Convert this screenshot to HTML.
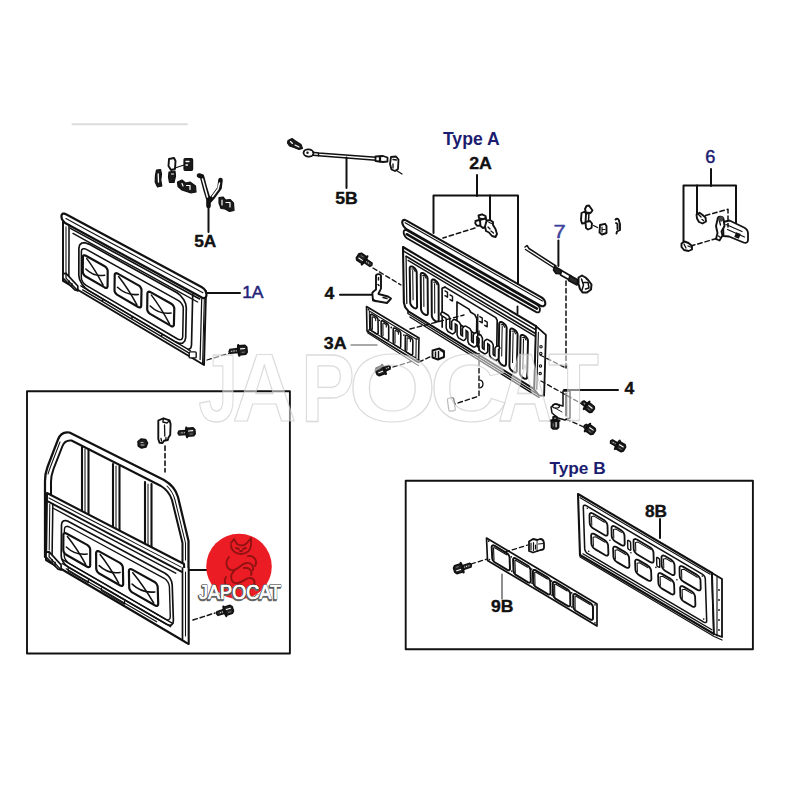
<!DOCTYPE html>
<html><head><meta charset="utf-8"><style>
html,body{margin:0;padding:0;background:#fff;}
svg{display:block;font-family:"Liberation Sans",sans-serif;}
</style></head><body>
<svg width="800" height="800" viewBox="0 0 800 800" stroke-linecap="round" stroke-linejoin="round">
<rect width="800" height="800" fill="#fff"/>
<rect x="27" y="391.25" width="262.9" height="262.3" fill="none" stroke="#111" stroke-width="1.9"/>
<rect x="405.7" y="480.8" width="347.2" height="168.4" fill="none" stroke="#111" stroke-width="1.9"/>
<line x1="72.5" y1="124.3" x2="187" y2="124.3" stroke="#dcdcdc" stroke-width="2"/>
<path d="M63.0,214.0 L206.0,291.0 L204.0,365.0 L63.0,281.0 Z" fill="#fff" stroke="#111" stroke-width="1.9599999999999997" />
<path d="M202.0,287.3 L203.8,288.6 L205.2,290.4 L206.1,292.4 L206.4,294.4 L206.4,295.4 L206.0,297.0 L205.0,297.9 L203.5,298.1 L201.8,297.6 L66.0,223.5 L64.3,222.3 L62.8,220.6 L61.8,218.7 L61.5,216.9 L61.5,216.0 L61.8,214.6 L62.8,213.7 L64.3,213.6 L66.0,214.2 Z" fill="#fff" stroke="#111" stroke-width="2.2399999999999998" />
<path d="M66.0,218.6 L88.8,230.9 L111.6,243.3 L134.5,255.6 L157.3,268.0 L180.1,280.3 L202.9,292.7" fill="none" stroke="#111" stroke-width="1.1199999999999999" />
<path d="M70.0,228.1 L91.6,239.9 L113.2,251.7 L134.8,263.5 L156.5,275.4 L178.1,287.2 L199.7,299.0" fill="none" stroke="#111" stroke-width="1.54" />
<path d="M73.0,233.4 L93.7,244.9 L114.5,256.3 L135.3,267.7 L156.1,279.2 L176.8,290.6 L197.6,302.0" fill="none" stroke="#111" stroke-width="1.4" />
<path d="M69.0,224.7 L69.0,238.7 L69.0,252.7 L68.9,266.8 L68.9,280.8" fill="none" stroke="#111" stroke-width="1.54" />
<path d="M66.0,226.8 L66.0,238.5 L66.0,250.1 L66.0,261.8 L66.0,273.4" fill="none" stroke="#111" stroke-width="1.05" />
<path d="M192.7,294.2 L191.5,345.1 L190.9,347.9 L188.4,349.5" fill="none" stroke="#111" stroke-width="1.68" />
<path d="M201.7,299.1 L201.3,314.2 L200.9,329.3 L200.5,344.5 L200.1,359.6" fill="none" stroke="#111" stroke-width="1.26" />
<path d="M204.3,299.4 L203.8,315.6 L203.4,331.8 L203.0,347.9 L202.5,364.1" fill="none" stroke="#111" stroke-width="1.05" />
<path d="M176.6,292.5 L180.4,295.4 L183.6,299.4 L185.7,303.9 L186.3,308.2 L185.7,337.6 L184.8,341.0 L182.6,343.1 L179.3,343.4 L175.5,341.9 L88.7,290.6 L84.9,287.6 L81.7,283.7 L79.6,279.4 L78.8,275.3 L78.9,248.0 L79.7,244.9 L81.9,243.0 L85.1,242.7 L88.9,244.1 Z" fill="none" stroke="#111" stroke-width="1.68" />
<path d="M178.5,300.7 L180.4,302.1 L181.9,304.1 L183.0,306.4 L183.3,308.5 L182.7,336.9 L182.2,338.6 L181.1,339.6 L179.5,339.8 L177.6,339.0 L86.2,285.3 L84.3,283.9 L82.7,281.9 L81.7,279.7 L81.3,277.7 L81.4,251.3 L81.8,249.7 L82.9,248.8 L84.5,248.7 L86.4,249.4 Z" fill="none" stroke="#111" stroke-width="1.54" />
<path d="M104.7,266.3 L105.9,267.2 L106.8,268.4 L107.5,269.7 L107.7,270.9 L107.6,286.3 L107.3,287.3 L106.7,287.8 L105.7,287.9 L104.6,287.4 L85.8,276.5 L84.6,275.7 L83.7,274.5 L83.0,273.2 L82.8,272.0 L82.9,256.9 L83.1,255.9 L83.7,255.4 L84.7,255.3 L85.9,255.7 Z" fill="#fff" stroke="#111" stroke-width="2.17" />
<path d="M86.8,258.6 Q95.2,269.8 103.1,285.1" fill="none" stroke="#111" stroke-width="1.54" />
<path d="M85.8,269.0 Q94.0,277.1 104.7,275.2" fill="none" stroke="#111" stroke-width="1.54" />
<path d="M138.5,285.4 L139.7,286.2 L140.6,287.4 L141.3,288.7 L141.5,290.0 L141.2,305.8 L141.0,306.8 L140.3,307.3 L139.4,307.4 L138.2,307.0 L117.4,294.9 L116.3,294.0 L115.3,292.8 L114.7,291.5 L114.5,290.3 L114.7,274.8 L114.9,273.9 L115.6,273.3 L116.5,273.2 L117.7,273.6 Z" fill="#fff" stroke="#111" stroke-width="2.17" />
<path d="M118.6,276.6 Q128.0,288.5 136.8,304.6" fill="none" stroke="#111" stroke-width="1.54" />
<path d="M117.5,287.3 Q126.5,295.9 138.4,294.4" fill="none" stroke="#111" stroke-width="1.54" />
<path d="M171.3,303.8 L172.5,304.7 L173.4,305.9 L174.1,307.3 L174.3,308.5 L173.9,324.6 L173.7,325.7 L173.0,326.3 L172.0,326.4 L170.9,325.9 L150.1,313.9 L149.0,313.0 L148.0,311.8 L147.4,310.5 L147.2,309.2 L147.4,293.4 L147.7,292.4 L148.3,291.8 L149.3,291.7 L150.5,292.1 Z" fill="#fff" stroke="#111" stroke-width="2.17" />
<path d="M151.4,295.1 Q160.7,307.2 169.4,323.6" fill="none" stroke="#111" stroke-width="1.54" />
<path d="M150.2,306.0 Q159.2,314.7 171.1,313.1" fill="none" stroke="#111" stroke-width="1.54" />
<path d="M80.8,285.9 L99.0,296.7 L117.3,307.5 L135.6,318.3 L153.8,329.1 L172.1,339.9 L190.3,350.7" fill="none" stroke="#111" stroke-width="1.4" />
<path d="M82.7,289.9 L101.0,300.7 L119.2,311.6 L137.5,322.4 L155.7,333.2 L174.0,344.1 L192.2,354.9" fill="none" stroke="#111" stroke-width="1.4" />
<circle cx="102.5" cy="300.2" r="1.0" fill="#111"/>
<circle cx="132.1" cy="317.7" r="1.0" fill="#111"/>
<circle cx="161.7" cy="335.2" r="1.0" fill="#111"/>
<path d="M63.0,273.6 L66.0,273.4 L77.8,286.0 L77.8,290.8 L74.8,289.9 L63.0,278.2 Z" fill="#fff" stroke="#111" stroke-width="1.68" />
<path d="M66.0,273.4 L66.0,278.1 L77.8,290.8" fill="none" stroke="#111" stroke-width="1.26" />
<path d="M68.9,280.8 L68.9,283.6" fill="none" stroke="#111" stroke-width="1.4" />
<path d="M71.9,283.5 L71.9,286.3" fill="none" stroke="#111" stroke-width="1.4" />
<rect x="189.2" y="351.9" width="7" height="6" rx="1" fill="#fff" stroke="#111" stroke-width="1.4"/>
<path d="M402.0,218.0 L546.0,300.0 L543.0,317.0 L403.0,237.0 Z" fill="#fff" stroke="none" stroke-width="1.05" />
<path d="M541.5,297.4 L543.2,298.7 L544.5,300.4 L545.2,302.3 L545.3,304.0 L545.3,304.0 L544.7,305.4 L543.5,306.1 L541.9,306.2 L540.1,305.5 L406.9,229.5 L405.2,228.2 L403.7,226.4 L402.7,224.4 L402.2,222.5 L402.2,222.5 L402.5,221.0 L403.4,220.1 L404.8,219.9 L406.5,220.6 Z" fill="#fff" stroke="#111" stroke-width="2.0999999999999996" />
<path d="M405.1,222.7 L428.0,235.7 L450.9,248.8 L473.8,261.8 L496.7,274.9 L519.6,287.9 L542.5,301.0" fill="none" stroke="#111" stroke-width="1.1199999999999999" />
<path d="M537.0,304.7 L538.3,305.7 L539.3,307.0 L539.9,308.5 L539.9,309.8 L539.8,310.7 L539.3,311.8 L538.4,312.4 L537.2,312.4 L535.9,311.9 L407.3,238.5 L406.0,237.5 L404.9,236.1 L404.1,234.5 L403.7,233.1 L403.7,232.1 L403.9,230.9 L404.6,230.2 L405.7,230.0 L407.0,230.5 Z" fill="#fff" stroke="#111" stroke-width="1.8199999999999998" />
<path d="M406.7,234.2 L428.4,246.6 L450.1,259.0 L471.8,271.4 L493.5,283.8 L515.2,296.2 L536.9,308.6" fill="none" stroke="#111" stroke-width="2.52" />
<path d="M403.0,247.0 L536.0,326.1 L545.9,334.9 L543.9,400.4 L404.0,313.9 Z" fill="#fff" stroke="none" stroke-width="1.05" />
<path d="M403.0,247.5 L403.9,302.6 L405.1,307.1 L408.8,311.7 L534.3,389.1" fill="none" stroke="#111" stroke-width="2.0999999999999996" />
<path d="M403.0,247.0 L536.0,326.1" fill="none" stroke="#111" stroke-width="2.0999999999999996" />
<path d="M404.1,251.4 L426.0,264.5 L448.0,277.5 L470.0,290.6 L491.9,303.7 L513.9,316.8 L535.9,329.9" fill="none" stroke="#111" stroke-width="1.54" />
<path d="M406.1,256.3 L427.7,269.2 L449.3,282.1 L471.0,295.0 L492.6,307.9 L514.2,320.8 L535.8,333.8" fill="none" stroke="#111" stroke-width="1.68" />
<path d="M408.1,260.3 L429.4,273.1 L450.7,285.8 L471.9,298.5 L493.2,311.2 L514.5,323.9 L535.7,336.6" fill="none" stroke="#111" stroke-width="1.4" />
<path d="M536.0,326.1 L535.6,341.9 L535.1,357.8 L534.7,373.7 L534.3,389.6" fill="none" stroke="#111" stroke-width="1.68" />
<path d="M406.1,256.3 L406.3,272.0 L406.6,287.7 L406.8,303.4" fill="none" stroke="#111" stroke-width="1.26" />
<path d="M407.9,311.6 L407.9,313.5 L537.2,393.8" fill="none" stroke="#111" stroke-width="1.4" />
<path d="M409.9,317.0 L539.0,397.4" fill="none" stroke="#111" stroke-width="1.4" />
<path d="M413.5,267.3 L414.7,268.2 L415.7,269.5 L416.4,270.9 L416.7,272.2 L417.1,306.8 L416.8,307.8 L416.2,308.3 L415.2,308.4 L414.0,307.9 L413.4,307.5 L412.2,306.5 L411.1,305.2 L410.4,303.8 L410.2,302.5 L409.7,268.0 L410.0,267.0 L410.6,266.5 L411.7,266.4 L412.9,266.9 Z" fill="none" stroke="#111" stroke-width="1.9599999999999997" />
<path d="M412.7,270.6 L412.9,285.2 L413.1,299.8" fill="none" stroke="#111" stroke-width="1.05" />
<path d="M411.7,269.0 L413.7,268.8 L415.2,271.6" fill="none" stroke="#111" stroke-width="1.1199999999999999" />
<path d="M424.4,273.8 L425.6,274.8 L426.7,276.1 L427.4,277.5 L427.6,278.8 L427.9,313.4 L427.7,314.4 L427.0,315.0 L426.0,315.0 L424.8,314.5 L424.2,314.1 L423.0,313.2 L421.9,311.9 L421.3,310.5 L421.0,309.2 L420.7,274.6 L420.9,273.6 L421.6,273.0 L422.6,273.0 L423.8,273.5 Z" fill="none" stroke="#111" stroke-width="1.9599999999999997" />
<path d="M423.7,277.1 L423.8,291.8 L423.9,306.4" fill="none" stroke="#111" stroke-width="1.05" />
<path d="M422.7,275.6 L424.6,275.4 L426.1,278.2" fill="none" stroke="#111" stroke-width="1.1199999999999999" />
<path d="M435.4,280.4 L436.6,281.4 L437.6,282.6 L438.3,284.0 L438.6,285.3 L438.7,320.0 L438.5,321.0 L437.8,321.6 L436.8,321.6 L435.6,321.1 L435.0,320.8 L433.8,319.8 L432.8,318.5 L432.1,317.1 L431.8,315.8 L431.6,281.2 L431.8,280.2 L432.5,279.6 L433.6,279.5 L434.8,280.0 Z" fill="none" stroke="#111" stroke-width="1.9599999999999997" />
<path d="M434.6,283.7 L434.7,298.4 L434.7,313.1" fill="none" stroke="#111" stroke-width="1.05" />
<path d="M433.6,282.2 L435.6,281.9 L437.1,284.7" fill="none" stroke="#111" stroke-width="1.1199999999999999" />
<path d="M503.5,323.2 L504.7,324.2 L505.8,325.4 L506.4,326.8 L506.7,328.2 L506.0,364.2 L505.7,365.2 L505.1,365.8 L504.0,365.8 L502.8,365.3 L501.7,364.7 L500.5,363.7 L499.5,362.4 L498.9,361.0 L498.6,359.7 L499.2,323.7 L499.5,322.7 L500.2,322.1 L501.2,322.0 L502.4,322.5 Z" fill="none" stroke="#111" stroke-width="1.9599999999999997" />
<path d="M502.2,326.2 L501.9,341.1 L501.7,355.9" fill="none" stroke="#111" stroke-width="1.05" />
<path d="M501.2,324.7 L503.2,324.4 L504.7,327.3" fill="none" stroke="#111" stroke-width="1.1199999999999999" />
<path d="M514.5,329.8 L515.7,330.7 L516.7,332.0 L517.4,333.4 L517.6,334.7 L516.8,370.8 L516.6,371.8 L515.9,372.4 L514.8,372.5 L513.6,372.0 L512.5,371.3 L511.3,370.3 L510.3,369.0 L509.7,367.6 L509.4,366.3 L510.1,330.3 L510.4,329.2 L511.1,328.6 L512.2,328.6 L513.4,329.1 Z" fill="none" stroke="#111" stroke-width="1.9599999999999997" />
<path d="M513.1,332.8 L512.8,347.7 L512.5,362.5" fill="none" stroke="#111" stroke-width="1.05" />
<path d="M512.1,331.3 L514.1,331.0 L515.6,333.8" fill="none" stroke="#111" stroke-width="1.1199999999999999" />
<path d="M524.9,336.0 L526.1,337.0 L527.1,338.3 L527.8,339.7 L528.0,341.0 L527.1,377.1 L526.9,378.2 L526.2,378.8 L525.1,378.8 L523.9,378.3 L522.8,377.6 L521.6,376.7 L520.6,375.4 L520.0,373.9 L519.8,372.6 L520.6,336.5 L520.8,335.5 L521.5,334.9 L522.6,334.9 L523.8,335.4 Z" fill="none" stroke="#111" stroke-width="1.9599999999999997" />
<path d="M523.5,339.1 L523.2,354.0 L522.8,368.9" fill="none" stroke="#111" stroke-width="1.05" />
<path d="M522.6,337.5 L524.6,337.3 L526.0,340.1" fill="none" stroke="#111" stroke-width="1.1199999999999999" />
<path d="M445.0,287.1 L495.8,317.6 L497.2,320.4 L496.6,360.6" fill="none" stroke="#111" stroke-width="1.68" />
<path d="M442.2,327.1 L442.1,288.2 L445.0,287.1" fill="none" stroke="#111" stroke-width="1.68" />
<path d="M457.0,301.9 L468.9,309.1 L470.8,312.2 L474.8,314.6 L476.8,318.6 L476.6,334.8 L456.9,322.8 Z" fill="none" stroke="#111" stroke-width="1.68" />
<path d="M442.6,314.1 L447.1,316.8 L448.0,318.8 L448.0,327.8 L449.0,329.9 L452.5,332.0 L453.5,331.2 L453.5,322.1 L454.4,321.3 L457.9,323.4 L458.9,325.4 L458.9,334.5 L459.8,336.5 L463.3,338.6 L464.3,337.8 L464.3,328.7 L465.3,327.9 L468.7,330.0 L469.7,332.1 L469.7,341.1 L470.6,343.1 L474.1,345.2 L475.1,344.4 L475.1,335.4 L476.1,334.5 L479.6,336.6 L480.6,338.7 L480.5,347.7 L481.4,349.8 L484.9,351.9 L485.9,351.1 L486.0,342.0 L487.0,341.2 L490.4,343.3 L491.4,345.3 L491.3,354.4 L492.2,356.4 L495.7,358.5 L496.7,357.7 L496.8,348.6 L497.8,347.8" fill="none" stroke="#111" stroke-width="5.2" stroke-linejoin="round"/>
<path d="M442.6,314.1 L447.1,316.8 L448.0,318.8 L448.0,327.8 L449.0,329.9 L452.5,332.0 L453.5,331.2 L453.5,322.1 L454.4,321.3 L457.9,323.4 L458.9,325.4 L458.9,334.5 L459.8,336.5 L463.3,338.6 L464.3,337.8 L464.3,328.7 L465.3,327.9 L468.7,330.0 L469.7,332.1 L469.7,341.1 L470.6,343.1 L474.1,345.2 L475.1,344.4 L475.1,335.4 L476.1,334.5 L479.6,336.6 L480.6,338.7 L480.5,347.7 L481.4,349.8 L484.9,351.9 L485.9,351.1 L486.0,342.0 L487.0,341.2 L490.4,343.3 L491.4,345.3 L491.3,354.4 L492.2,356.4 L495.7,358.5 L496.7,357.7 L496.8,348.6 L497.8,347.8" fill="none" stroke="#fff" stroke-width="2.1" stroke-linejoin="round"/>
<path d="M477.8,314.5 L477.7,330.7 L477.5,346.9" fill="none" stroke="#111" stroke-width="1.4" />
<path d="M445.0,290.9 L447.5,292.4 L447.5,297.2 L445.0,295.7" fill="none" stroke="#111" stroke-width="1.4" />
<path d="M450.0,294.9 L452.5,296.4 L452.5,301.1 L450.0,299.6" fill="none" stroke="#111" stroke-width="1.4" />
<path d="M479.8,316.6 L482.3,318.1 L482.2,322.9 L479.7,321.4" fill="none" stroke="#111" stroke-width="1.4" />
<path d="M484.7,320.6 L487.2,322.1 L487.2,326.8 L484.7,325.3" fill="none" stroke="#111" stroke-width="1.4" />
<path d="M536.0,326.1 L545.9,334.9 L544.1,395.6 L539.1,395.5 L534.3,389.6 Z" fill="#fff" stroke="#111" stroke-width="1.8199999999999998" />
<path d="M538.4,332.4 L537.6,360.8 L536.8,389.2" fill="none" stroke="#111" stroke-width="1.1199999999999999" />
<circle cx="541.0" cy="346.7" r="1.2" fill="none" stroke="#111" stroke-width="1.12"/>
<circle cx="540.8" cy="353.4" r="1.2" fill="none" stroke="#111" stroke-width="1.12"/>
<circle cx="540.5" cy="365.9" r="1.2" fill="none" stroke="#111" stroke-width="1.12"/>
<circle cx="540.2" cy="373.6" r="1.2" fill="none" stroke="#111" stroke-width="1.12"/>
<path d="M366.5,306.5 L419.0,338.0 L418.5,362.5 L367.0,331.0 Z" fill="#fff" stroke="#111" stroke-width="1.6099999999999999" />
<path d="M367.5,332.8 L418.4,365.6" fill="none" stroke="#111" stroke-width="1.05" />
<path d="M369.3,311.0 L416.2,339.2 L415.9,358.0 L369.6,329.8 Z" fill="none" stroke="#111" stroke-width="1.05" />
<path d="M376.1,316.8 L376.8,317.4 L377.5,318.2 L377.9,319.1 L378.0,320.0 L378.2,332.8 L378.1,333.5 L377.7,333.9 L377.0,333.9 L376.3,333.7 L372.7,331.4 L371.9,330.8 L371.3,330.0 L370.9,329.1 L370.7,328.2 L370.5,315.5 L370.6,314.8 L371.0,314.4 L371.7,314.3 L372.4,314.6 Z" fill="none" stroke="#111" stroke-width="1.6099999999999999" />
<path d="M372.4,329.3 L372.3,317.0 L373.0,316.7 L375.6,318.3" fill="none" stroke="#111" stroke-width="1.1199999999999999" />
<path d="M375.6,318.3 L375.7,320.6" fill="none" stroke="#111" stroke-width="1.1199999999999999" />
<path d="M386.7,323.2 L387.5,323.8 L388.1,324.7 L388.5,325.6 L388.7,326.4 L388.7,339.2 L388.6,339.9 L388.2,340.3 L387.6,340.4 L386.8,340.1 L383.2,337.9 L382.5,337.3 L381.8,336.4 L381.4,335.5 L381.3,334.6 L381.1,321.9 L381.3,321.2 L381.7,320.8 L382.3,320.7 L383.1,321.0 Z" fill="none" stroke="#111" stroke-width="1.6099999999999999" />
<path d="M383.0,335.7 L382.9,323.4 L383.7,323.1 L386.3,324.7" fill="none" stroke="#111" stroke-width="1.1199999999999999" />
<path d="M386.3,324.7 L386.3,327.0" fill="none" stroke="#111" stroke-width="1.1199999999999999" />
<path d="M398.9,330.5 L399.6,331.1 L400.2,331.9 L400.6,332.9 L400.8,333.7 L400.7,346.5 L400.5,347.2 L400.1,347.6 L399.5,347.7 L398.8,347.4 L395.1,345.1 L394.4,344.5 L393.8,343.7 L393.4,342.8 L393.2,341.9 L393.2,329.2 L393.4,328.5 L393.8,328.1 L394.4,328.0 L395.2,328.3 Z" fill="none" stroke="#111" stroke-width="1.6099999999999999" />
<path d="M395.0,343.0 L395.0,330.7 L395.7,330.4 L398.4,332.0" fill="none" stroke="#111" stroke-width="1.1199999999999999" />
<path d="M398.4,332.0 L398.4,334.3" fill="none" stroke="#111" stroke-width="1.1199999999999999" />
<path d="M411.0,337.8 L411.7,338.4 L412.3,339.2 L412.7,340.1 L412.9,341.0 L412.7,353.8 L412.5,354.5 L412.1,354.9 L411.5,354.9 L410.7,354.7 L407.1,352.4 L406.4,351.8 L405.7,351.0 L405.3,350.1 L405.2,349.2 L405.3,336.5 L405.5,335.8 L405.9,335.4 L406.5,335.3 L407.3,335.6 Z" fill="none" stroke="#111" stroke-width="1.6099999999999999" />
<path d="M406.9,350.3 L407.1,338.0 L407.8,337.7 L410.5,339.3" fill="none" stroke="#111" stroke-width="1.1199999999999999" />
<path d="M410.5,339.3 L410.4,341.6" fill="none" stroke="#111" stroke-width="1.1199999999999999" />
<circle cx="368.5" cy="309.7" r="0.9" fill="#111"/>
<circle cx="417.0" cy="338.9" r="0.9" fill="#111"/>
<circle cx="416.6" cy="359.3" r="0.9" fill="#111"/>
<circle cx="368.9" cy="330.1" r="0.9" fill="#111"/>
<circle cx="379.4" cy="320.3" r="0.9" fill="#111"/>
<circle cx="391.3" cy="327.5" r="0.9" fill="#111"/>
<circle cx="403.9" cy="335.1" r="0.9" fill="#111"/>
<path d="M45,557 L45,481 C45,475 46,471 47.5,467 L58,439.5 C60,434 64,431.5 69.5,432.5 L164,480 C171,484 176,490 178,497 L188.5,541 L188.5,644" fill="none" stroke="#111" stroke-width="2.2399999999999998" />
<path d="M51,557 L51,482 C51,477 52,473 53.5,469 L62.5,446 C64,442 67,440 71.5,440.5 L161,486 C166,489 170,494 172,500 L182.5,543 L182.5,640" fill="none" stroke="#111" stroke-width="2.03" />
<path d="M48,474 L50,468 L60,442 M167,486 C172,491 174,496 175,500 L185.5,543 L185.5,560" fill="none" stroke="#111" stroke-width="1.05" />
<path d="M82,447 L82,514" fill="none" stroke="#111" stroke-width="2.0999999999999996" />
<path d="M88.5,449 L88.5,516" fill="none" stroke="#111" stroke-width="2.0999999999999996" />
<path d="M85,449 L85,514" fill="none" stroke="#111" stroke-width="1.05" />
<path d="M113,464 L113,531" fill="none" stroke="#111" stroke-width="2.0999999999999996" />
<path d="M119.5,466 L119.5,533" fill="none" stroke="#111" stroke-width="2.0999999999999996" />
<path d="M116,466 L116,531" fill="none" stroke="#111" stroke-width="1.05" />
<path d="M145,482 L145,548" fill="none" stroke="#111" stroke-width="2.0999999999999996" />
<path d="M151.5,484 L151.5,550" fill="none" stroke="#111" stroke-width="2.0999999999999996" />
<path d="M148,484 L148,548" fill="none" stroke="#111" stroke-width="1.05" />
<path d="M47.0,493.0 L184.0,564.0 L187.0,643.0 L46.0,560.0 Z" fill="#fff" stroke="#111" stroke-width="2.0999999999999996" />
<path d="M46.9,500.9 L69.3,512.7 L91.7,524.5 L114.1,536.3 L136.6,548.1 L159.0,559.9 L181.4,571.7" fill="none" stroke="#111" stroke-width="1.9599999999999997" />
<path d="M48.9,498.0 L71.0,509.5 L93.0,521.0 L115.1,532.5 L137.1,544.1 L159.2,555.6 L181.2,567.1" fill="none" stroke="#111" stroke-width="1.05" />
<path d="M53.7,508.5 L74.0,519.3 L94.4,530.1 L114.7,540.9 L135.0,551.7 L155.3,562.4 L175.7,573.2" fill="none" stroke="#111" stroke-width="1.4" />
<path d="M52.8,504.0 L52.6,521.9 L52.3,539.7 L52.1,557.6" fill="none" stroke="#111" stroke-width="1.54" />
<path d="M49.8,504.4 L49.6,519.6 L49.4,534.7 L49.2,549.9" fill="none" stroke="#111" stroke-width="1.05" />
<path d="M165.0,573.2 L167.7,575.2 L170.0,578.1 L171.6,581.5 L172.2,584.9 L173.4,620.4 L173.0,623.2 L171.5,624.9 L169.3,625.3 L166.6,624.3 L68.2,567.0 L65.5,564.9 L63.2,562.0 L61.7,558.8 L61.2,555.8 L61.5,524.7 L62.0,522.3 L63.5,520.8 L65.8,520.5 L68.4,521.4 Z" fill="none" stroke="#111" stroke-width="1.68" />
<path d="M164.2,578.3 L166.1,579.8 L167.8,581.9 L168.9,584.3 L169.4,586.7 L170.3,616.4 L170.0,618.4 L169.0,619.6 L167.4,619.9 L165.5,619.2 L69.2,563.5 L67.3,562.0 L65.7,560.0 L64.6,557.7 L64.2,555.6 L64.4,529.3 L64.8,527.6 L65.9,526.6 L67.5,526.3 L69.4,527.0 Z" fill="none" stroke="#111" stroke-width="1.4" />
<path d="M87.2,544.9 L88.3,545.8 L89.3,547.0 L90.0,548.3 L90.2,549.7 L90.2,565.3 L90.0,566.3 L89.4,567.0 L88.4,567.1 L87.2,566.7 L66.2,554.7 L65.1,553.8 L64.1,552.6 L63.5,551.2 L63.3,549.9 L63.4,534.8 L63.6,533.8 L64.3,533.2 L65.2,533.1 L66.4,533.5 Z" fill="#fff" stroke="#111" stroke-width="2.17" />
<path d="M67.4,536.5 Q76.8,548.2 85.7,564.3" fill="none" stroke="#111" stroke-width="1.54" />
<path d="M66.3,547.0 Q75.4,555.6 87.2,554.0" fill="none" stroke="#111" stroke-width="1.54" />
<path d="M119.9,562.9 L121.0,563.8 L122.0,565.0 L122.7,566.4 L122.9,567.8 L123.2,584.0 L123.0,585.1 L122.4,585.8 L121.4,585.9 L120.2,585.5 L99.2,573.5 L98.1,572.6 L97.1,571.4 L96.5,570.0 L96.2,568.7 L96.1,553.0 L96.4,551.9 L97.0,551.2 L98.0,551.1 L99.1,551.4 Z" fill="#fff" stroke="#111" stroke-width="2.17" />
<path d="M100.1,554.6 Q109.6,566.6 118.7,583.1" fill="none" stroke="#111" stroke-width="1.54" />
<path d="M99.2,565.6 Q108.4,574.3 120.1,572.4" fill="none" stroke="#111" stroke-width="1.54" />
<path d="M154.6,582.0 L155.7,582.8 L156.7,584.1 L157.4,585.6 L157.7,587.0 L158.2,603.9 L158.0,605.0 L157.3,605.8 L156.4,605.9 L155.2,605.5 L132.2,592.4 L131.1,591.5 L130.1,590.2 L129.4,588.8 L129.2,587.4 L128.9,571.1 L129.1,569.9 L129.7,569.2 L130.7,569.0 L131.8,569.4 Z" fill="#fff" stroke="#111" stroke-width="2.17" />
<path d="M132.8,572.7 Q143.4,585.5 153.7,603.0" fill="none" stroke="#111" stroke-width="1.54" />
<path d="M132.1,584.1 Q142.2,593.5 154.9,591.9" fill="none" stroke="#111" stroke-width="1.54" />
<path d="M62.2,559.4 L80.6,570.1 L99.0,580.7 L117.4,591.3 L135.7,602.0 L154.1,612.6 L172.5,623.3" fill="none" stroke="#111" stroke-width="1.4" />
<path d="M62.2,563.5 L80.2,574.0 L98.3,584.5 L116.4,595.1 L134.5,605.6 L152.6,616.1 L170.7,626.7" fill="none" stroke="#111" stroke-width="1.4" />
<path d="M66.2,568.8 L81.2,577.7 L96.3,586.5 L111.4,595.3 L126.5,604.2 L141.6,613.0 L156.7,621.8" fill="none" stroke="#111" stroke-width="1.26" />
<path d="M46.1,552.1 L49.2,551.9 L61.1,564.9 L61.1,569.9 L58.1,569.1 L46.0,557.0 Z" fill="#fff" stroke="#111" stroke-width="1.68" />
<path d="M49.2,551.9 L49.1,556.8 L61.1,569.9" fill="none" stroke="#111" stroke-width="1.26" />
<path d="M52.1,559.6 L52.1,562.6" fill="none" stroke="#111" stroke-width="1.4" />
<path d="M55.1,562.3 L55.1,565.3" fill="none" stroke="#111" stroke-width="1.4" />
<path d="M68.2,568.5 L68.2,571.0 L88.3,582.8 L88.3,580.2" fill="none" stroke="#111" stroke-width="1.26" />
<path d="M101.4,587.9 L101.4,590.5 L124.5,604.1 L124.5,601.4" fill="none" stroke="#111" stroke-width="1.26" />
<path d="M182.5,568 L182.5,640 L188.5,644 L188.5,568" fill="#fff" stroke="#111" stroke-width="1.68" />
<path d="M185.5,572 L185.5,636" fill="none" stroke="#111" stroke-width="1.05" />
<path d="M158.3,420.5 L163.5,418.3 L169.5,420.3 L170.6,424 L170.2,435 L168.5,437.5 L167.8,440 L164,440.8 L162.5,443 L159.5,442.8 L158.3,439 Z" fill="#fff" stroke="#111" stroke-width="1.9" stroke-linejoin="round"/>
<path d="M163.5,418.5 L162.8,422 L167,423 L169.5,420.5 M164.5,425 L164.8,436 M161,438.5 L161.5,441 M166,437.5 L165.8,440" fill="none" stroke="#111" stroke-width="1.3"/>
<path d="M165.0,446.0 L165.0,472.0" fill="none" stroke="#111" stroke-width="1.6" stroke-dasharray="4.5,3"/>
<path d="M138,441.5 L141,439 L145.5,439.5 L147.5,443 L146,447 L141.5,448 L138.3,446 Z" fill="#222" stroke="#111" stroke-width="1.6" stroke-linejoin="round"/>
<path d="M141,442.5 L143,442.5 M141,445 L144,445" stroke="#ccc" stroke-width="0.9"/>
<path d="M185.8,430.4 L178.9,431.1 L178.0,433.1 L179.2,435.0 L186.2,434.4 Z" fill="#333" stroke="#111" stroke-width="1.5" stroke-linejoin="round"/>
<circle cx="184.4" cy="432.6" r="0.55" fill="#fff"/>
<circle cx="182.0" cy="432.8" r="0.55" fill="#fff"/>
<path d="M186.3,427.6 L185.8,432.5 L187.1,437.2" fill="none" stroke="#111" stroke-width="2.2"/>
<path d="M194.8,429.5 L193.0,427.8 L186.7,428.4 L187.4,436.3 L193.7,435.8 L195.2,433.8 Z" fill="#222" stroke="#111" stroke-width="1.6" stroke-linejoin="round"/>
<path d="M192.7,430.6 L188.5,431.0" stroke="#fff" stroke-width="1.1"/>
<path d="M192.4,433.9 L190.0,434.1" stroke="#888" stroke-width="0.8"/>
<path d="M223.6,609.5 L216.9,611.6 L216.6,613.8 L218.1,615.4 L224.8,613.4 Z" fill="#333" stroke="#111" stroke-width="1.5" stroke-linejoin="round"/>
<circle cx="222.7" cy="611.9" r="0.55" fill="#fff"/>
<circle cx="220.4" cy="612.6" r="0.55" fill="#fff"/>
<path d="M223.4,606.5 L224.0,611.5 L226.3,616.0" fill="none" stroke="#111" stroke-width="2.2"/>
<path d="M232.1,606.6 L230.1,605.3 L223.9,607.2 L226.4,615.2 L232.5,613.3 L233.5,611.0 Z" fill="#222" stroke="#111" stroke-width="1.6" stroke-linejoin="round"/>
<path d="M230.4,608.3 L226.3,609.5" stroke="#fff" stroke-width="1.1"/>
<path d="M230.8,611.7 L228.5,612.4" stroke="#888" stroke-width="0.8"/>
<path d="M193.0,620.0 L215.0,613.0" fill="none" stroke="#111" stroke-width="1.5" stroke-dasharray="4.5,3"/>
<line x1="189" y1="570" x2="210" y2="570" stroke="#111" stroke-width="2.0"/>
<path d="M578.0,494.0 L712.0,573.0 L714.0,634.0 L580.0,555.0 Z" fill="#fff" stroke="#111" stroke-width="2.0999999999999996" />
<path d="M580.1,497.7 L601.7,510.5 L623.4,523.2 L645.1,536.0 L666.7,548.8 L688.4,561.5 L710.1,574.3" fill="none" stroke="#111" stroke-width="1.1199999999999999" />
<path d="M702.2,574.1 L703.4,575.0 L704.4,576.2 L705.1,577.6 L705.3,578.9 L706.7,620.9 L706.5,621.9 L705.9,622.5 L704.9,622.6 L703.8,622.1 L587.8,553.7 L586.6,552.8 L585.7,551.6 L585.0,550.2 L584.7,548.9 L583.3,506.9 L583.5,505.9 L584.1,505.3 L585.1,505.3 L586.2,505.7 Z" fill="none" stroke="#111" stroke-width="1.54" />
<path d="M582.9,553.8 L604.4,566.4 L625.9,579.1 L647.4,591.8 L668.9,604.5 L690.4,617.1 L711.9,629.8" fill="none" stroke="#111" stroke-width="1.26" />
<path d="M603.9,520.0 L605.2,521.1 L606.4,522.5 L607.2,524.1 L607.5,525.6 L607.7,533.6 L607.5,534.8 L606.8,535.5 L605.7,535.6 L604.4,535.0 L593.4,528.5 L592.0,527.5 L590.8,526.1 L590.0,524.5 L589.7,523.0 L589.5,515.0 L589.7,513.8 L590.4,513.1 L591.5,513.0 L592.9,513.5 Z" fill="none" stroke="#111" stroke-width="1.8199999999999998" />
<path d="M591.8,525.2 L591.5,516.7 L593.9,516.1 L604.4,522.3" fill="none" stroke="#111" stroke-width="1.05" />
<path d="M620.9,530.1 L622.2,531.1 L623.4,532.5 L624.2,534.1 L624.5,535.6 L624.7,543.6 L624.5,544.8 L623.8,545.5 L622.7,545.6 L621.4,545.1 L615.4,541.5 L614.0,540.5 L612.8,539.0 L612.0,537.5 L611.7,536.0 L611.5,528.0 L611.7,526.8 L612.4,526.1 L613.5,526.0 L614.9,526.5 Z" fill="none" stroke="#111" stroke-width="1.8199999999999998" />
<path d="M613.8,538.1 L613.5,529.6 L615.9,529.1 L621.4,532.4" fill="none" stroke="#111" stroke-width="1.05" />
<path d="M649.9,547.2 L651.2,548.2 L652.4,549.6 L653.2,551.2 L653.5,552.7 L653.7,560.7 L653.5,561.9 L652.8,562.6 L651.7,562.7 L650.4,562.2 L637.4,554.5 L636.0,553.4 L634.8,552.0 L634.0,550.4 L633.7,548.9 L633.5,540.9 L633.7,539.7 L634.4,539.1 L635.5,539.0 L636.9,539.5 Z" fill="none" stroke="#111" stroke-width="1.8199999999999998" />
<path d="M635.8,551.1 L635.5,542.6 L637.9,542.1 L650.4,549.4" fill="none" stroke="#111" stroke-width="1.05" />
<path d="M670.9,559.5 L672.2,560.6 L673.4,562.0 L674.2,563.6 L674.5,565.1 L674.7,573.1 L674.5,574.3 L673.8,575.0 L672.7,575.1 L671.4,574.5 L665.4,571.0 L664.0,569.9 L662.8,568.5 L662.0,566.9 L661.7,565.4 L661.5,557.4 L661.7,556.3 L662.4,555.6 L663.5,555.5 L664.9,556.0 Z" fill="none" stroke="#111" stroke-width="1.8199999999999998" />
<path d="M663.8,567.6 L663.5,559.1 L665.9,558.6 L671.4,561.8" fill="none" stroke="#111" stroke-width="1.05" />
<path d="M696.9,574.9 L698.2,575.9 L699.4,577.3 L700.2,578.9 L700.5,580.4 L700.7,588.4 L700.5,589.6 L699.8,590.3 L698.7,590.4 L697.4,589.9 L683.4,581.6 L682.0,580.6 L680.8,579.1 L680.0,577.5 L679.7,576.0 L679.5,568.0 L679.7,566.9 L680.4,566.2 L681.5,566.1 L682.9,566.6 Z" fill="none" stroke="#111" stroke-width="1.8199999999999998" />
<path d="M681.8,578.2 L681.5,569.7 L683.9,569.2 L697.4,577.2" fill="none" stroke="#111" stroke-width="1.05" />
<path d="M604.5,540.0 L605.9,541.1 L607.0,542.5 L607.8,544.1 L608.1,545.6 L608.4,553.6 L608.2,554.8 L607.4,555.5 L606.3,555.6 L605.0,555.0 L595.0,549.1 L593.7,548.1 L592.5,546.7 L591.7,545.1 L591.4,543.6 L591.1,535.6 L591.4,534.4 L592.1,533.7 L593.2,533.6 L594.5,534.1 Z" fill="none" stroke="#111" stroke-width="1.8199999999999998" />
<path d="M593.4,545.8 L593.1,537.3 L595.6,536.7 L605.1,542.3" fill="none" stroke="#111" stroke-width="1.05" />
<path d="M625.5,552.4 L626.9,553.5 L628.0,554.9 L628.8,556.5 L629.1,558.0 L629.4,566.0 L629.2,567.2 L628.4,567.8 L627.3,567.9 L626.0,567.4 L617.0,562.1 L615.7,561.1 L614.5,559.6 L613.7,558.0 L613.4,556.5 L613.1,548.5 L613.4,547.4 L614.1,546.7 L615.2,546.6 L616.5,547.1 Z" fill="none" stroke="#111" stroke-width="1.8199999999999998" />
<path d="M615.4,558.7 L615.1,550.2 L617.6,549.7 L626.1,554.7" fill="none" stroke="#111" stroke-width="1.05" />
<path d="M647.5,565.4 L648.9,566.4 L650.0,567.9 L650.8,569.5 L651.1,570.9 L651.4,578.9 L651.2,580.1 L650.4,580.8 L649.3,580.9 L648.0,580.4 L639.0,575.1 L637.7,574.0 L636.5,572.6 L635.7,571.0 L635.4,569.5 L635.1,561.5 L635.4,560.3 L636.1,559.6 L637.2,559.6 L638.5,560.1 Z" fill="none" stroke="#111" stroke-width="1.8199999999999998" />
<path d="M637.4,571.7 L637.1,563.2 L639.6,562.7 L648.1,567.7" fill="none" stroke="#111" stroke-width="1.05" />
<path d="M670.5,578.9 L671.9,580.0 L673.0,581.4 L673.8,583.0 L674.1,584.5 L674.4,592.5 L674.2,593.7 L673.4,594.4 L672.3,594.5 L671.0,593.9 L662.0,588.6 L660.7,587.6 L659.5,586.2 L658.7,584.6 L658.4,583.1 L658.1,575.1 L658.4,573.9 L659.1,573.2 L660.2,573.1 L661.5,573.6 Z" fill="none" stroke="#111" stroke-width="1.8199999999999998" />
<path d="M660.4,585.3 L660.1,576.8 L662.6,576.2 L671.1,581.2" fill="none" stroke="#111" stroke-width="1.05" />
<path d="M691.5,591.3 L692.9,592.4 L694.0,593.8 L694.8,595.4 L695.1,596.9 L695.4,604.9 L695.2,606.1 L694.4,606.8 L693.3,606.8 L692.0,606.3 L684.0,601.6 L682.7,600.6 L681.5,599.1 L680.7,597.5 L680.4,596.0 L680.1,588.0 L680.4,586.9 L681.1,586.2 L682.2,586.1 L683.5,586.6 Z" fill="none" stroke="#111" stroke-width="1.8199999999999998" />
<path d="M682.4,598.2 L682.1,589.7 L684.6,589.2 L692.1,593.6" fill="none" stroke="#111" stroke-width="1.05" />
<path d="M629.6,541.1 L629.9,541.4 L630.3,541.8 L630.5,542.2 L630.6,542.7 L630.8,549.7 L630.8,550.0 L630.5,550.2 L630.2,550.2 L629.9,550.1 L628.9,549.5 L628.5,549.2 L628.1,548.8 L627.9,548.3 L627.8,547.9 L627.6,540.9 L627.7,540.6 L627.9,540.4 L628.2,540.3 L628.6,540.5 Z" fill="none" stroke="#111" stroke-width="1.4" />
<path d="M658.6,558.2 L658.9,558.5 L659.3,558.9 L659.5,559.3 L659.6,559.8 L659.8,566.8 L659.8,567.1 L659.5,567.3 L659.2,567.3 L658.9,567.2 L657.9,566.6 L657.5,566.3 L657.1,565.9 L656.9,565.4 L656.8,565.0 L656.6,558.0 L656.7,557.6 L656.9,557.5 L657.2,557.4 L657.6,557.6 Z" fill="none" stroke="#111" stroke-width="1.4" />
<circle cx="587.3" cy="508.3" r="0.8" fill="#111"/>
<circle cx="609.9" cy="540.3" r="0.8" fill="#111"/>
<circle cx="630.9" cy="552.7" r="0.8" fill="#111"/>
<circle cx="655.9" cy="567.4" r="0.8" fill="#111"/>
<circle cx="676.9" cy="579.8" r="0.8" fill="#111"/>
<circle cx="702.3" cy="576.1" r="0.8" fill="#111"/>
<circle cx="703.7" cy="619.1" r="0.8" fill="#111"/>
<circle cx="588.7" cy="551.3" r="0.8" fill="#111"/>
<path d="M712.0,573.0 L722.0,579.0 L722.0,637.0 L714.0,634.0 Z" fill="#fff" stroke="#111" stroke-width="1.8199999999999998" />
<path d="M717.0,577.0 L717.0,636.0" fill="none" stroke="#111" stroke-width="1.1199999999999999" />
<circle cx="719.0" cy="590.0" r="0.9" fill="#111"/>
<circle cx="719.0" cy="600.0" r="0.9" fill="#111"/>
<circle cx="719.0" cy="610.0" r="0.9" fill="#111"/>
<circle cx="719.0" cy="620.0" r="0.9" fill="#111"/>
<circle cx="719.0" cy="630.0" r="0.9" fill="#111"/>
<path d="M580.0,555.0 L580.1,557.0 L714.1,636.5 L722.0,640.0" fill="none" stroke="#111" stroke-width="1.26" />
<path d="M486.5,538.0 L597.0,604.0 L597.0,626.0 L487.5,560.5 Z" fill="#fff" stroke="#111" stroke-width="1.68" />
<path d="M506.7,553.1 L507.8,553.9 L508.7,555.1 L509.4,556.4 L509.6,557.6 L510.0,568.7 L509.8,569.6 L509.3,570.2 L508.4,570.3 L507.3,569.9 L495.1,562.5 L494.0,561.7 L493.1,560.5 L492.5,559.3 L492.2,558.0 L491.7,546.9 L491.9,545.9 L492.5,545.4 L493.3,545.3 L494.4,545.7 Z" fill="none" stroke="#111" stroke-width="1.9599999999999997" />
<path d="M494.0,559.9 L493.5,547.7 L494.7,547.7 L506.6,554.8" fill="none" stroke="#111" stroke-width="1.1199999999999999" />
<path d="M527.6,565.5 L528.7,566.4 L529.6,567.5 L530.2,568.8 L530.5,570.0 L530.8,581.1 L530.6,582.1 L530.0,582.6 L529.1,582.7 L528.1,582.3 L516.3,575.2 L515.3,574.4 L514.3,573.2 L513.7,572.0 L513.5,570.7 L513.1,559.7 L513.3,558.7 L513.8,558.1 L514.7,558.1 L515.8,558.5 Z" fill="none" stroke="#111" stroke-width="1.9599999999999997" />
<path d="M515.3,572.6 L514.9,560.4 L516.0,560.4 L527.5,567.2" fill="none" stroke="#111" stroke-width="1.1199999999999999" />
<path d="M547.5,577.4 L548.6,578.3 L549.5,579.4 L550.1,580.7 L550.3,581.9 L550.5,592.9 L550.3,593.9 L549.8,594.4 L548.9,594.5 L547.8,594.1 L536.1,587.1 L535.0,586.2 L534.1,585.1 L533.5,583.8 L533.2,582.6 L532.9,571.5 L533.1,570.6 L533.7,570.0 L534.6,569.9 L535.7,570.4 Z" fill="none" stroke="#111" stroke-width="1.9599999999999997" />
<path d="M535.0,584.4 L534.7,572.3 L535.9,572.3 L547.3,579.1" fill="none" stroke="#111" stroke-width="1.1199999999999999" />
<path d="M567.4,589.3 L568.4,590.2 L569.3,591.3 L570.0,592.6 L570.2,593.8 L570.3,604.7 L570.1,605.7 L569.5,606.2 L568.6,606.3 L567.6,605.9 L555.8,598.9 L554.8,598.0 L553.9,596.9 L553.2,595.6 L553.0,594.4 L552.8,583.4 L553.0,582.4 L553.6,581.9 L554.5,581.8 L555.5,582.2 Z" fill="none" stroke="#111" stroke-width="1.9599999999999997" />
<path d="M554.8,596.3 L554.6,584.2 L555.8,584.2 L567.2,591.0" fill="none" stroke="#111" stroke-width="1.1199999999999999" />
<path d="M590.2,603.0 L591.3,603.8 L592.2,605.0 L592.8,606.2 L593.0,607.4 L593.0,618.3 L592.8,619.3 L592.2,619.8 L591.3,619.9 L590.3,619.5 L576.1,611.0 L575.0,610.1 L574.1,609.0 L573.5,607.7 L573.3,606.5 L573.2,595.6 L573.4,594.6 L574.0,594.1 L574.9,594.0 L575.9,594.4 Z" fill="none" stroke="#111" stroke-width="1.9599999999999997" />
<path d="M575.1,608.4 L575.0,596.3 L576.1,596.3 L590.0,604.6" fill="none" stroke="#111" stroke-width="1.1199999999999999" />
<circle cx="488.6" cy="541.2" r="0.85" fill="#111"/>
<circle cx="595.0" cy="604.8" r="0.85" fill="#111"/>
<circle cx="595.0" cy="622.8" r="0.85" fill="#111"/>
<circle cx="489.4" cy="559.6" r="0.85" fill="#111"/>
<circle cx="511.3" cy="556.8" r="0.85" fill="#111"/>
<circle cx="511.8" cy="571.1" r="0.85" fill="#111"/>
<circle cx="531.7" cy="569.0" r="0.85" fill="#111"/>
<circle cx="532.1" cy="583.2" r="0.85" fill="#111"/>
<circle cx="551.6" cy="580.9" r="0.85" fill="#111"/>
<circle cx="551.8" cy="595.0" r="0.85" fill="#111"/>
<circle cx="571.7" cy="592.9" r="0.85" fill="#111"/>
<circle cx="571.8" cy="606.9" r="0.85" fill="#111"/>
<path d="M156.5,170 L160.5,169.5 L161.5,174 L160.8,180 L161.8,186 L157.5,187 L155.2,182 L155.5,175 Z" fill="#1a1a1a" stroke="#111" stroke-width="1.2" stroke-linejoin="round"/>
<path d="M158.2,174 L158.5,182" stroke="#fff" stroke-width="1.3"/>
<path d="M169,159 L174,158 L175.5,161 L175,169 L171,170 L168.5,166 Z" fill="#fff" stroke="#111" stroke-width="1.9"/>
<path d="M169,172 L175,171 L175.5,176 L174,182.5 L169.5,182.5 L168.5,177 Z" fill="#1a1a1a" stroke="#111" stroke-width="1.2" stroke-linejoin="round"/>
<path d="M171,161 L173,166 M171.5,174 L173.5,174" stroke="#fff" stroke-width="1.1"/>
<path d="M175,168 L184,165" stroke="#111" stroke-width="1.2"/>
<rect x="184" y="158.5" width="8.6" height="12" rx="1.2" fill="#1a1a1a" stroke="#111" stroke-width="1.2" stroke-linejoin="round"/>
<path d="M186,161.5 L189,161.5 M186,165 L187.5,165" stroke="#fff" stroke-width="1.3"/>
<path d="M177.5,182 L182,180 L185.5,183 L190,182 L195.5,186 L196,192 L191,193 L186.5,191.5 L182,190 L178,186.5 Z" fill="#1a1a1a" stroke="#111" stroke-width="1.2" stroke-linejoin="round"/>
<path d="M186.5,185.5 L190,185.5 L190,189.5 M182,183.5 L183,186" fill="none" stroke="#fff" stroke-width="1.2"/>
<path d="M199,175.5 L202,176.5 L205,188 L208.5,199.5 L208.5,206 M220.5,180 L219.5,188 L213,197 L208.5,202" fill="none" stroke="#111" stroke-width="4.6" stroke-linejoin="round"/>
<path d="M202.5,179 L205,188 L207.5,197 M219.5,183 L218,189 L212.5,196.5" fill="none" stroke="#fff" stroke-width="1.5"/>
<path d="M219,197.5 L223,197 L225.5,200 L230,199.5 L233.5,203 L234,210.5 L229.5,211.5 L225,209 L221,208.5 L219,203 Z" fill="#1a1a1a" stroke="#111" stroke-width="1.2" stroke-linejoin="round"/>
<path d="M222,200 L222,205 M226,202.5 L230,202.5 L230,207" fill="none" stroke="#fff" stroke-width="1.2"/>
<line x1="208.5" y1="205" x2="208.5" y2="232" stroke="#111" stroke-width="2.0"/>
<path d="M288,140.5 L292,138.5 L295.5,141 L301,144.5 L302.5,148.5 L299,149.5 L294,147.5 L289.5,146 L287.5,143 Z" fill="#1a1a1a" stroke="#111" stroke-width="1.2" stroke-linejoin="round"/>
<path d="M290.5,141.5 L292.5,143.5 M295,145 L299,147" stroke="#fff" stroke-width="1.1"/>
<ellipse cx="308.5" cy="153" rx="5" ry="3.6" transform="rotate(8 308.5 153)" fill="#fff" stroke="#111" stroke-width="1.8"/>
<circle cx="307.5" cy="152.8" r="1.2" fill="#111"/>
<path d="M313,152.3 L318.5,153 L376,157.3 M313,155.3 L318.5,155.8 L376,160.2" fill="none" stroke="#111" stroke-width="1.6"/>
<path d="M318.5,153 L318.5,155.8" stroke="#111" stroke-width="1.5"/>
<path d="M375.5,156.5 L383,156 L387.5,157.5 L387.5,161.5 L383,162 L375.5,161 Z" fill="#fff" stroke="#111" stroke-width="1.8"/>
<path d="M380,156.5 L380,161.5" stroke="#111" stroke-width="2.2"/>
<path d="M391,157 L396,156.5 L398.5,159.5 L398,169 L395,171 L391.5,169.5 L390,164 Z" fill="#fff" stroke="#111" stroke-width="1.8" stroke-linejoin="round"/>
<path d="M393,159.5 L396.5,160 M393,164 L393,168 M396.5,170.5 L402,174" fill="none" stroke="#111" stroke-width="1.3"/>
<line x1="346.5" y1="157.5" x2="346.5" y2="188" stroke="#111" stroke-width="2.0"/>
<line x1="477" y1="175" x2="477" y2="196" stroke="#111" stroke-width="2.0"/>
<path d="M433.5,233 L433.5,195.5 L518,195.5 L518,284" fill="none" stroke="#111" stroke-width="2"/>
<line x1="517.5" y1="306.5" x2="517.5" y2="313.5" stroke="#111" stroke-width="1.8"/>
<line x1="490" y1="195.5" x2="490" y2="221" stroke="#111" stroke-width="2.0"/>
<path d="M478.5,215.5 L482,214.3 L485.5,216 L486,218.5 L482.5,219.5 L479,218.2 Z" fill="#fff" stroke="#111" stroke-width="1.9" stroke-linejoin="round"/>
<path d="M475.5,221 L479,220 L481,222.5 L480.5,225.5 L477,225.8 L475.3,223.5 Z" fill="#fff" stroke="#111" stroke-width="1.9" stroke-linejoin="round"/>
<path d="M480,220 L485,218.5 L487.5,221 L487,226.5 L483,228 L480.5,226 Z" fill="#fff" stroke="#111" stroke-width="1.9" stroke-linejoin="round"/>
<path d="M486.5,221 L490,220 L493,222 L493,225 L495.5,229 L497,234 L495.5,237 L492,236 L489,232.5 L486,231 L485,226.5 Z" fill="#fff" stroke="#111" stroke-width="1.9" stroke-linejoin="round"/>
<path d="M489,222.5 L492,223.5 M488,227 L490,229 M491,231 L493.5,233" stroke="#111" stroke-width="1.3"/>
<path d="M475.0,228.0 L443.0,238.0" fill="none" stroke="#111" stroke-width="1.5" stroke-dasharray="4.5,3"/>
<line x1="558.4" y1="240.5" x2="558.4" y2="266" stroke="#111" stroke-width="2.0"/>
<path d="M525,247 L527,245.5 L529,248.5 L556,266" fill="none" stroke="#111" stroke-width="1.5"/>
<path d="M525.5,249.5 L555,268.5" fill="none" stroke="#111" stroke-width="1.4"/>
<path d="M554.5,266.5 L561,270 L562.5,274 L556,273.5 L553.5,270 Z" fill="#222" stroke="#111" stroke-width="1.6" stroke-linejoin="round"/>
<path d="M561.5,270.5 L571,276 L569.5,280 L560.5,275 Z" fill="#fff" stroke="#111" stroke-width="1.7" stroke-linejoin="round"/>
<path d="M570,275.5 L578,280 L577,285 L568.5,280.5 Z" fill="#2a2a2a" stroke="#111" stroke-width="1.6" stroke-linejoin="round"/>
<path d="M578.5,277.5 L582,275.5 L585.5,277.5 L588.5,280.5 L591.5,284.5 L591,289.5 L587,292.5 L582.5,292.5 L580,289 L578.5,284 Z" fill="#fff" stroke="#111" stroke-width="2.0" stroke-linejoin="round"/>
<path d="M581.5,279 L583.5,285 L582,290 M584,282.5 L588,282.5 L589,288 L585.5,289" fill="none" stroke="#111" stroke-width="1.5"/>
<path d="M566.0,281.0 L566.0,368.0" fill="none" stroke="#111" stroke-width="1.5" stroke-dasharray="4.5,3"/>
<path d="M586.5,206 L589,205.5 L592.5,210.5 L590.5,213 L586,212.5 L585,209 Z" fill="#fff" stroke="#111" stroke-width="1.9" stroke-linejoin="round"/>
<path d="M581.5,213 L585,211.5 L586,214 L585.5,223 L582,223.5 L581,220 Z" fill="#fff" stroke="#111" stroke-width="1.9" stroke-linejoin="round"/>
<path d="M585.5,222 L590,221 L592,223.5 L591.5,228 L588,229.5 L586,228 Z" fill="#fff" stroke="#111" stroke-width="1.9" stroke-linejoin="round"/>
<path d="M586,214 L589,213 L588.5,221" fill="none" stroke="#111" stroke-width="1.5"/>
<path d="M593.5,225.5 L597.5,227.5" stroke="#111" stroke-width="1.3"/>
<path d="M600,225 L605,223.8 L606.5,226 L606.5,233 L602,234.5 L599.5,232.5 Z" fill="#fff" stroke="#111" stroke-width="1.9" stroke-linejoin="round"/>
<path d="M602,227 L602,232 M602.5,229.5 L605,229.5" stroke="#111" stroke-width="1.2"/>
<path d="M615.5,219.5 C617,218 619,219 619,221 L620,224 L620,230 L617,231.5 L616.5,233.5 M616,223 L617.5,224 L617.5,229" fill="none" stroke="#111" stroke-width="1.9"/>
<line x1="340" y1="294.8" x2="371.5" y2="294.8" stroke="#111" stroke-width="2.0"/>
<path d="M376,276 C376,273.5 381,273.5 381,276 L381,288.5 C380,291 378.5,292.5 378.5,294 L388,296.5 L391,298.5 L387,303 L373,300.5 L372.3,293 C373,291.5 375,290.5 376,289.5 Z" fill="#fff" stroke="#111" stroke-width="1.9" stroke-linejoin="round"/>
<path d="M378.5,277.5 L378.5,280 M378,284.5 L379,285.5 M383,297.5 L387,298.5 M373,299 L376,301.5" stroke="#111" stroke-width="1.5"/>
<path d="M364.0,262.5 L369.8,266.4 L371.8,265.3 L372.1,263.1 L366.3,259.1 Z" fill="#333" stroke="#111" stroke-width="1.5" stroke-linejoin="round"/>
<circle cx="366.5" cy="261.7" r="0.55" fill="#fff"/>
<circle cx="368.5" cy="263.0" r="0.55" fill="#fff"/>
<path d="M361.8,264.5 L365.3,260.9 L367.4,256.3" fill="none" stroke="#111" stroke-width="2.2"/>
<path d="M356.4,257.7 L356.7,260.1 L362.0,263.7 L366.7,256.8 L361.4,253.2 L359.0,253.8 Z" fill="#222" stroke="#111" stroke-width="1.6" stroke-linejoin="round"/>
<path d="M358.8,258.0 L362.3,260.4" stroke="#fff" stroke-width="1.1"/>
<path d="M361.2,255.6 L363.2,256.9" stroke="#888" stroke-width="0.8"/>
<path d="M373.0,268.0 L401.0,285.0" fill="none" stroke="#111" stroke-width="1.4" stroke-dasharray="4.5,3"/>
<line x1="351" y1="345" x2="377" y2="345" stroke="#555" stroke-width="1.2"/>
<path d="M432.5,350.5 L439.5,348.5 L444,351 L444,357 L438,359.5 L432.5,357.5 Z" fill="#fff" stroke="#111" stroke-width="1.9" stroke-linejoin="round"/>
<path d="M435.5,352 L435.5,357 M438.5,351.5 L438.5,358.5 M440,350 L443,352" stroke="#111" stroke-width="1.5"/>
<path d="M419.0,362.0 L432.0,356.0" fill="none" stroke="#111" stroke-width="1.4" stroke-dasharray="4.5,3"/>
<path d="M385.4,371.0 L390.0,369.1 L390.2,366.9 L388.5,365.4 L383.9,367.3 Z" fill="#333" stroke="#111" stroke-width="1.5" stroke-linejoin="round"/>
<circle cx="386.1" cy="368.5" r="0.55" fill="#fff"/>
<circle cx="388.3" cy="367.6" r="0.55" fill="#fff"/>
<path d="M385.9,374.0 L384.8,369.1 L382.1,364.8" fill="none" stroke="#111" stroke-width="2.2"/>
<path d="M377.2,374.6 L379.3,375.8 L385.3,373.4 L382.1,365.6 L376.2,368.0 L375.4,370.4 Z" fill="#222" stroke="#111" stroke-width="1.6" stroke-linejoin="round"/>
<path d="M378.8,372.8 L382.7,371.3" stroke="#fff" stroke-width="1.1"/>
<path d="M378.1,369.5 L380.3,368.6" stroke="#888" stroke-width="0.8"/>
<path d="M393.0,367.0 L420.0,359.0" fill="none" stroke="#111" stroke-width="1.3" stroke-dasharray="4.5,3"/>
<path d="M410.0,329.0 L464.0,315.0" fill="none" stroke="#111" stroke-width="1.4" stroke-dasharray="4.5,3"/>
<path d="M479.0,331.0 L479.0,396.0 L455.0,404.0" fill="none" stroke="#111" stroke-width="1.4" stroke-dasharray="4.5,3"/>
<path d="M480,380 C484,381 484,387 480,388" fill="none" stroke="#111" stroke-width="1.2"/>
<rect x="448" y="398" width="6.5" height="13" rx="1.5" fill="#fff" stroke="#777" stroke-width="1.2" transform="rotate(-8 451 404)"/>
<line x1="564" y1="390" x2="618" y2="390" stroke="#111" stroke-width="2.0"/>
<path d="M540.0,355.0 L566.0,368.0" fill="none" stroke="#111" stroke-width="1.3" stroke-dasharray="4.5,3"/>
<path d="M563,391 L570,391 L570,418 L565,420 L558,418 L552,413 L551,407 L555,404 L563,406 Z" fill="#fff" stroke="#111" stroke-width="1.5"/>
<path d="M566,393 L566,416 M555,408 L562,412" stroke="#111" stroke-width="0.9"/>
<ellipse cx="556" cy="406" rx="3.5" ry="2.2" fill="none" stroke="#111" stroke-width="1.2"/>
<path d="M541.0,381.0 L582.0,404.0" fill="none" stroke="#111" stroke-width="1.3" stroke-dasharray="4.5,3"/>
<path d="M566.0,419.0 L586.0,428.0" fill="none" stroke="#111" stroke-width="1.3" stroke-dasharray="4.5,3"/>
<path d="M587.3,403.3 L584.1,400.9 L582.1,401.8 L581.7,404.0 L584.8,406.5 Z" fill="#333" stroke="#111" stroke-width="1.5" stroke-linejoin="round"/>
<circle cx="584.8" cy="403.9" r="0.55" fill="#fff"/>
<path d="M589.4,401.7 L585.9,404.8 L583.8,409.0" fill="none" stroke="#111" stroke-width="2.2"/>
<path d="M594.4,408.8 L594.2,406.5 L589.2,402.5 L584.5,408.5 L589.6,412.5 L591.9,412.1 Z" fill="#222" stroke="#111" stroke-width="1.6" stroke-linejoin="round"/>
<path d="M592.1,408.2 L588.8,405.6" stroke="#fff" stroke-width="1.1"/>
<path d="M589.8,410.2 L587.9,408.8" stroke="#888" stroke-width="0.8"/>
<path d="M557.0,420.0 L557.0,417.0 L555.0,416.0 L553.0,417.0 L553.0,420.0 Z" fill="#333" stroke="#111" stroke-width="1.5" stroke-linejoin="round"/>
<circle cx="555.0" cy="418.4" r="0.55" fill="#fff"/>
<path d="M559.4,420.7 L555.0,419.8 L550.6,420.7" fill="none" stroke="#111" stroke-width="2.2"/>
<path d="M557.0,429.0 L558.6,427.4 L558.6,421.0 L551.4,421.0 L551.4,427.4 L553.0,429.0 Z" fill="#222" stroke="#111" stroke-width="1.6" stroke-linejoin="round"/>
<path d="M556.1,426.8 L556.1,422.6" stroke="#fff" stroke-width="1.1"/>
<path d="M553.2,426.2 L553.2,423.8" stroke="#888" stroke-width="0.8"/>
<path d="M588.1,425.5 L586.4,424.3 L584.4,425.4 L584.1,427.6 L585.8,428.8 Z" fill="#333" stroke="#111" stroke-width="1.5" stroke-linejoin="round"/>
<path d="M590.1,423.8 L586.7,427.0 L584.8,431.3" fill="none" stroke="#111" stroke-width="2.2"/>
<path d="M595.5,430.6 L595.1,428.3 L589.9,424.6 L585.5,430.8 L590.8,434.5 L593.1,434.0 Z" fill="#222" stroke="#111" stroke-width="1.6" stroke-linejoin="round"/>
<path d="M593.1,430.1 L589.7,427.7" stroke="#fff" stroke-width="1.1"/>
<path d="M590.9,432.2 L588.9,430.9" stroke="#888" stroke-width="0.8"/>
<path d="M617.7,442.8 L612.5,439.8 L610.6,441.0 L610.5,443.2 L615.7,446.2 Z" fill="#333" stroke="#111" stroke-width="1.5" stroke-linejoin="round"/>
<circle cx="615.3" cy="443.7" r="0.55" fill="#fff"/>
<circle cx="613.2" cy="442.5" r="0.55" fill="#fff"/>
<path d="M619.7,440.7 L616.5,444.4 L614.9,449.0" fill="none" stroke="#111" stroke-width="2.2"/>
<path d="M625.6,447.1 L625.1,444.7 L619.5,441.5 L615.5,448.5 L621.1,451.7 L623.4,450.9 Z" fill="#222" stroke="#111" stroke-width="1.6" stroke-linejoin="round"/>
<path d="M623.2,446.9 L619.5,444.8" stroke="#fff" stroke-width="1.1"/>
<path d="M621.0,449.3 L619.0,448.1" stroke="#888" stroke-width="0.8"/>
<line x1="207" y1="293" x2="240" y2="293" stroke="#111" stroke-width="2.0"/>
<path d="M237.8,348.5 L229.9,349.4 L229.1,351.5 L230.3,353.3 L238.2,352.5 Z" fill="#333" stroke="#111" stroke-width="1.5" stroke-linejoin="round"/>
<circle cx="236.4" cy="350.7" r="0.55" fill="#fff"/>
<circle cx="234.0" cy="350.9" r="0.55" fill="#fff"/>
<circle cx="231.7" cy="351.2" r="0.55" fill="#fff"/>
<path d="M238.2,345.2 L237.8,350.5 L239.3,355.7" fill="none" stroke="#111" stroke-width="2.2"/>
<path d="M246.7,347.1 L244.9,345.3 L238.6,345.9 L239.5,354.9 L245.9,354.2 L247.2,352.0 Z" fill="#222" stroke="#111" stroke-width="1.6" stroke-linejoin="round"/>
<path d="M244.6,348.5 L240.5,348.9" stroke="#fff" stroke-width="1.1"/>
<path d="M244.4,352.1 L242.0,352.4" stroke="#888" stroke-width="0.8"/>
<path d="M207.0,360.0 L230.0,353.0" fill="none" stroke="#111" stroke-width="1.3" stroke-dasharray="4.5,3"/>
<line x1="711" y1="169" x2="711" y2="186" stroke="#111" stroke-width="2.0"/>
<path d="M683.5,243 L683.5,185.5 L736,185.5 L736,226" fill="none" stroke="#111" stroke-width="2"/>
<line x1="697" y1="185.5" x2="697" y2="214" stroke="#111" stroke-width="2.0"/>
<path d="M696.5,214.5 L699.5,212.8 L702,214.5 L705.5,217.5 L706,221.5 L702.5,223.5 L699,222 L697,218.5 Z" fill="#fff" stroke="#111" stroke-width="1.9" stroke-linejoin="round"/>
<path d="M698.5,214.5 L701,217 M702,219.5 L703.5,220.5" stroke="#111" stroke-width="1.4"/>
<path d="M681.5,243.5 L684.5,241.5 L688.5,243 L692,246 L692,249.5 L688.5,251 L684,250 L681.5,247 Z" fill="#fff" stroke="#111" stroke-width="1.9" stroke-linejoin="round"/>
<path d="M684,244 L686,248 M688,246 L690.5,247" stroke="#111" stroke-width="1.3"/>
<path d="M723,222 L729.5,220.5 L744,227.5 C747,229 748,231 748,233.5 L748,240 C748,242.5 746,243.5 743.5,242.5 L729,236.5 L723.5,236 Z" fill="#fff" stroke="#111" stroke-width="1.8" stroke-linejoin="round"/>
<path d="M726,224.5 L742,231.5 M727.5,229.5 L744.5,237" fill="none" stroke="#111" stroke-width="1.2"/>
<rect x="735" y="233" width="5" height="5" fill="#111" transform="rotate(22 737.5 235.5)"/>
<path d="M717.5,219.5 C717.5,216 722.5,215.5 723.5,219 L724.5,226 L721.5,231.5 L722.5,235.5 L719.5,240.5 L716,239 L717.5,233 L716,226 Z" fill="#fff" stroke="#111" stroke-width="1.9" stroke-linejoin="round"/>
<path d="M719,219.5 L720.5,225 M718.5,236 L720.5,237.5" stroke="#111" stroke-width="1.3"/>
<ellipse cx="721" cy="219" rx="2.2" ry="2.8" fill="#444"/>
<path d="M705.5,215.5 L728.0,209.3 L728.0,227.0" fill="none" stroke="#111" stroke-width="1.5" stroke-dasharray="4.5,3"/>
<path d="M716.5,238.5 L692.5,245.5" fill="none" stroke="#111" stroke-width="1.5" stroke-dasharray="4.5,3"/>
<line x1="660" y1="519" x2="660" y2="538" stroke="#111" stroke-width="2.0"/>
<line x1="502" y1="574" x2="502" y2="599" stroke="#444" stroke-width="1.2"/>
<path d="M463.4,569.5 L471.0,567.1 L471.4,564.9 L469.8,563.3 L462.2,565.6 Z" fill="#333" stroke="#111" stroke-width="1.5" stroke-linejoin="round"/>
<circle cx="464.3" cy="567.1" r="0.55" fill="#fff"/>
<circle cx="466.6" cy="566.4" r="0.55" fill="#fff"/>
<circle cx="468.9" cy="565.7" r="0.55" fill="#fff"/>
<path d="M463.6,572.5 L463.0,567.5 L460.7,563.0" fill="none" stroke="#111" stroke-width="2.2"/>
<path d="M454.9,572.4 L456.9,573.7 L463.1,571.8 L460.6,563.8 L454.5,565.7 L453.5,568.0 Z" fill="#222" stroke="#111" stroke-width="1.6" stroke-linejoin="round"/>
<path d="M456.6,570.7 L460.7,569.5" stroke="#fff" stroke-width="1.1"/>
<path d="M456.2,567.3 L458.5,566.6" stroke="#888" stroke-width="0.8"/>
<path d="M471.0,564.0 L487.0,559.0" fill="none" stroke="#111" stroke-width="1.3" stroke-dasharray="4.5,3"/>
<path d="M529,541.5 L533,539 L537.5,540 L537.5,551 L533,552.5 L529,551 Z" fill="#fff" stroke="#111" stroke-width="1.8" stroke-linejoin="round"/>
<path d="M531,543 L531,550 M533.5,542.5 L533.5,550.5 M535.5,545 L535.5,549" stroke="#111" stroke-width="1.2"/>
<path d="M537.5,540 L540,539 C543,539 544,541 544,544 L544,547.5 C544,549.5 542.5,550 540.5,550 L537.5,551" fill="#fff" stroke="#111" stroke-width="1.8" stroke-linejoin="round"/>
<path d="M538.5,544 L543.5,543.5" stroke="#111" stroke-width="1.1"/>
<path d="M505.0,552.0 L528.0,545.0" fill="none" stroke="#111" stroke-width="1.3" stroke-dasharray="4.5,3"/>
<text x="442.92" y="144.96" font-size="17.6" font-weight="bold" fill="#1c1c70" text-anchor="start">Type A</text>
<text x="549.39" y="473.96" font-size="17.26" font-weight="bold" fill="#1c1c70" text-anchor="start">Type B</text>
<text x="469.2" y="168.79" font-size="15.78" font-weight="bold" fill="#111" text-anchor="start" textLength="22.74" lengthAdjust="spacingAndGlyphs" stroke="#111" stroke-width="0.35">2A</text>
<text x="335.22" y="204.04" font-size="15.63" font-weight="bold" fill="#111" text-anchor="start" textLength="22.49" lengthAdjust="spacingAndGlyphs" stroke="#111" stroke-width="0.35">5B</text>
<text x="194.26" y="247.36" font-size="15.78" font-weight="bold" fill="#111" text-anchor="start" textLength="22.08" lengthAdjust="spacingAndGlyphs" stroke="#111" stroke-width="0.35">5A</text>
<text x="324.49" y="299.49" font-size="16.71" font-weight="bold" fill="#111" text-anchor="start" textLength="9.78" lengthAdjust="spacingAndGlyphs" stroke="#111" stroke-width="0.35">4</text>
<text x="323.73" y="348.6" font-size="15.96" font-weight="bold" fill="#111" text-anchor="start" textLength="22.85" lengthAdjust="spacingAndGlyphs" stroke="#111" stroke-width="0.35">3A</text>
<text x="624.61" y="393.55" font-size="15.78" font-weight="bold" fill="#111" text-anchor="start" textLength="9.72" lengthAdjust="spacingAndGlyphs" stroke="#111" stroke-width="0.35">4</text>
<text x="645.01" y="516.6" font-size="15.63" font-weight="bold" fill="#111" text-anchor="start" textLength="22.09" lengthAdjust="spacingAndGlyphs" stroke="#111" stroke-width="0.35">8B</text>
<text x="491.02" y="612.36" font-size="15.89" font-weight="bold" fill="#111" text-anchor="start" textLength="22.45" lengthAdjust="spacingAndGlyphs" stroke="#111" stroke-width="0.35">9B</text>
<text x="242.15" y="298.42" font-size="15.64" font-weight="normal" fill="#23237a" text-anchor="start" textLength="21.42" lengthAdjust="spacingAndGlyphs" stroke="#23237a" stroke-width="0.45">1A</text>
<text x="553.48" y="237.89" font-size="18.77" font-weight="normal" fill="#3b3f9c" text-anchor="start" textLength="12.2" lengthAdjust="spacingAndGlyphs" stroke="#3b3f9c" stroke-width="0.45">7</text>
<text x="705.38" y="163.16" font-size="17.5" font-weight="normal" fill="#1c1c70" text-anchor="start" textLength="10.11" lengthAdjust="spacingAndGlyphs" stroke="#1c1c70" stroke-width="0.45">6</text>
<text x="0" y="421" transform="translate(198.53,0) scale(0.733,1)" font-size="96.5" font-weight="bold" fill="rgba(255,255,255,0.5)" stroke="rgba(195,195,195,0.6)" stroke-width="1.2" vector-effect="non-scaling-stroke" font-family="Liberation Sans, sans-serif">J</text>
<text x="0" y="421" transform="translate(232.23,0) scale(0.922,1)" font-size="96.5" font-weight="bold" fill="rgba(255,255,255,0.5)" stroke="rgba(195,195,195,0.6)" stroke-width="1.2" vector-effect="non-scaling-stroke" font-family="Liberation Sans, sans-serif">A</text>
<text x="0" y="421" transform="translate(300.98,0) scale(0.836,1)" font-size="96.5" font-weight="bold" fill="rgba(255,255,255,0.5)" stroke="rgba(195,195,195,0.6)" stroke-width="1.2" vector-effect="non-scaling-stroke" font-family="Liberation Sans, sans-serif">P</text>
<text x="0" y="421" transform="translate(348.28,0) scale(1.179,1)" font-size="96.5" font-weight="bold" fill="rgba(255,255,255,0.5)" stroke="rgba(195,195,195,0.6)" stroke-width="1.2" vector-effect="non-scaling-stroke" font-family="Liberation Sans, sans-serif">O</text>
<text x="0" y="421" transform="translate(429.49,0) scale(1.127,1)" font-size="96.5" font-weight="bold" fill="rgba(255,255,255,0.5)" stroke="rgba(195,195,195,0.6)" stroke-width="1.2" vector-effect="non-scaling-stroke" font-family="Liberation Sans, sans-serif">C</text>
<text x="0" y="421" transform="translate(497.66,0) scale(0.781,1)" font-size="96.5" font-weight="bold" fill="rgba(255,255,255,0.5)" stroke="rgba(195,195,195,0.6)" stroke-width="1.2" vector-effect="non-scaling-stroke" font-family="Liberation Sans, sans-serif">A</text>
<text x="0" y="421" transform="translate(548.14,0) scale(0.860,1)" font-size="96.5" font-weight="bold" fill="rgba(255,255,255,0.5)" stroke="rgba(195,195,195,0.6)" stroke-width="1.2" vector-effect="non-scaling-stroke" font-family="Liberation Sans, sans-serif">T</text>
<circle cx="239" cy="566.5" r="32.8" fill="#ec1c24"/>
<g fill="none" stroke="#8a1212" stroke-width="1.9" stroke-linecap="round" stroke-linejoin="round" opacity="0.92"><path d="M231,543 L234,539 L237,544 C240,546 244,546 247,543 L251,538 L251,545 C251,550 247,554 241,554 C235,554 231,550 231,545"/><path d="M236,548 L239,549 M243,549 L246,548 M240,551 L242,551"/><path d="M229,557 C224,563 227,571 234,570 C239,569 241,564 246,563 C251,562 254,566 253,570"/><path d="M248,556 C254,555 258,561 255,566"/><path d="M234,571 C229,576 231,584 238,583 C244,582 246,577 251,578 C255,579 256,584 252,587"/><path d="M244,568 C249,567 253,571 251,575"/><path d="M226,577 C223,582 226,588 232,588"/></g>
<text x="198.4" y="599.6" font-size="20.5" font-weight="normal" textLength="82" lengthAdjust="spacingAndGlyphs" font-family="Liberation Sans, sans-serif" fill="#666" stroke="#666" stroke-width="2.6" stroke-linejoin="round">JAPOCAT</text>
<text x="199" y="598.6" font-size="20.5" font-weight="normal" textLength="82" lengthAdjust="spacingAndGlyphs" font-family="Liberation Sans, sans-serif" fill="#fff" stroke="#333" stroke-width="1.4" paint-order="stroke" stroke-linejoin="round">JAPOCAT</text>
<text x="199" y="598.6" font-size="20.5" font-weight="normal" textLength="82" lengthAdjust="spacingAndGlyphs" font-family="Liberation Sans, sans-serif" fill="#fff" stroke="#fff" stroke-width="0.6">JAPOCAT</text>
</svg></body></html>
